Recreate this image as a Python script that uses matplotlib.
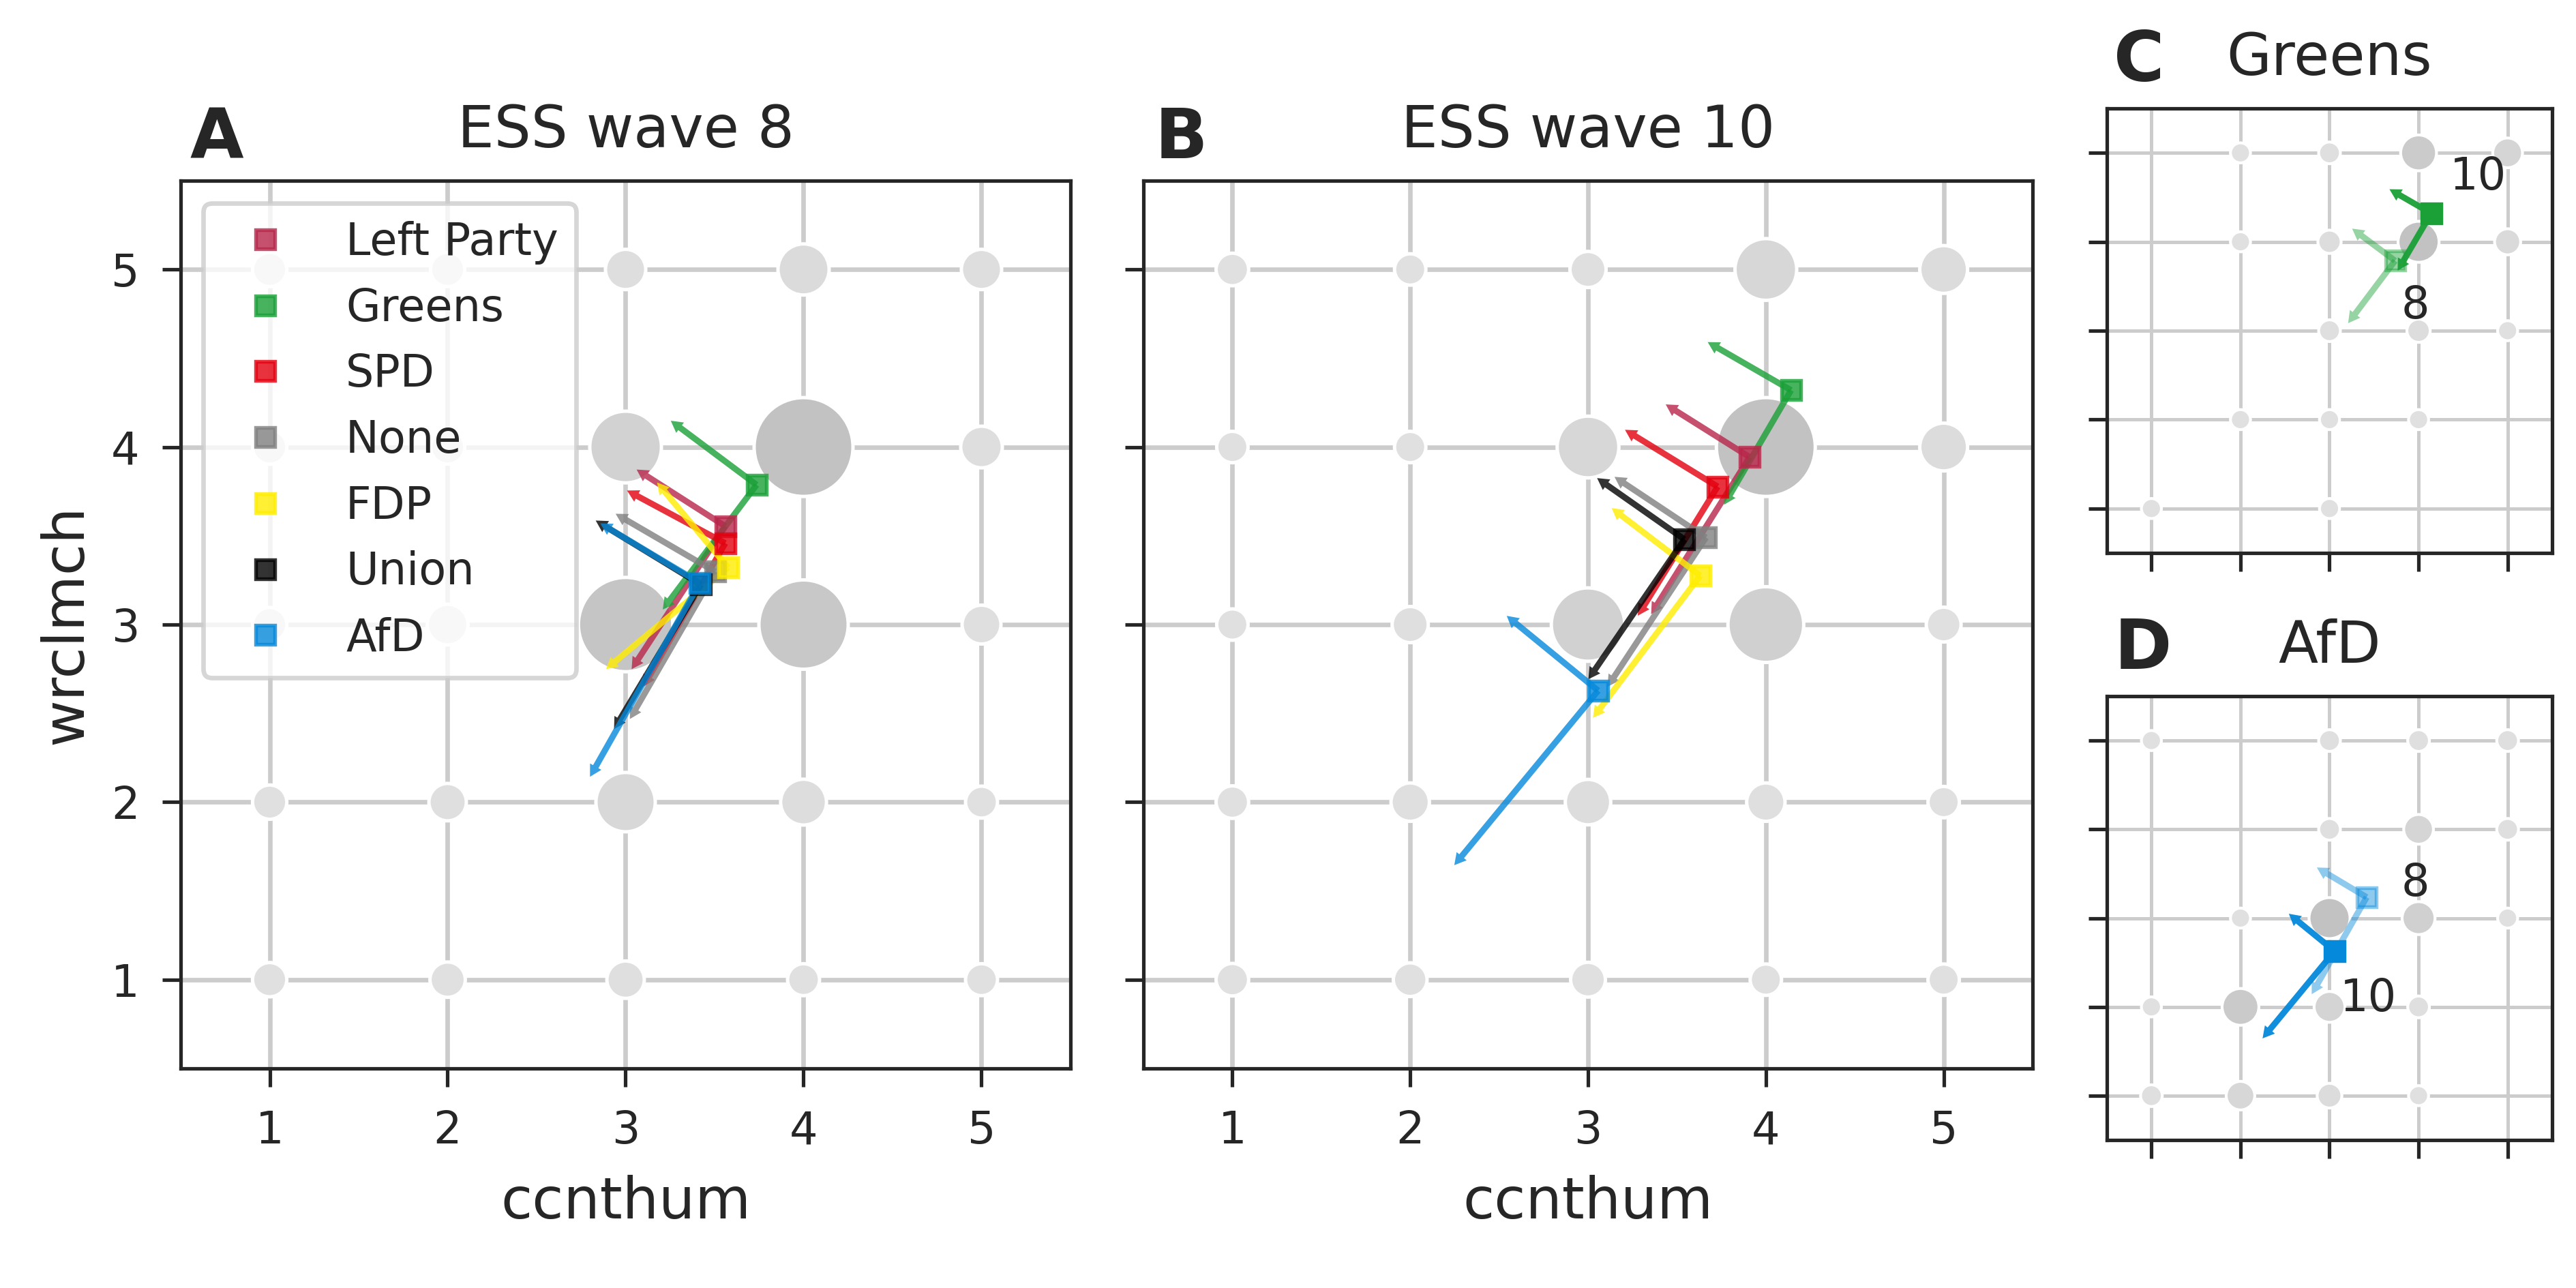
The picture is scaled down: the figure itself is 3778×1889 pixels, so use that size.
import numpy as np
import matplotlib
matplotlib.use("Agg")
import matplotlib.pyplot as plt
from matplotlib.lines import Line2D

# ---------------- data ----------------
parties = ["Left Party", "Greens", "SPD", "None", "FDP", "Union", "AfD"]
levels = [1, 2, 3, 4, 5]

# ESS wave 8: party means and the two arrow tips
w8_mean_x = [3.560, 3.736, 3.560, 3.503, 3.576, 3.423, 3.417]
w8_mean_y = [3.554, 3.787, 3.458, 3.298, 3.321, 3.225, 3.235]
w8_up_x = [3.062, 3.254, 3.008, 2.944, 3.177, 2.832, 2.858]
w8_up_y = [3.873, 4.148, 3.755, 3.624, 3.800, 3.586, 3.570]
w8_down_x = [3.034, 3.209, 3.100, 3.024, 2.890, 2.935, 2.800]
w8_down_y = [2.749, 3.085, 2.650, 2.468, 2.749, 2.411, 2.143]

# ESS wave 10
w10_mean_x = [3.909, 4.142, 3.729, 3.663, 3.631, 3.542, 3.057]
w10_mean_y = [3.943, 4.320, 3.777, 3.490, 3.276, 3.480, 2.628]
w10_up_x = [3.437, 3.673, 3.208, 3.149, 3.133, 3.051, 2.543]
w10_up_y = [4.240, 4.591, 4.097, 3.832, 3.656, 3.825, 3.049]
w10_down_x = [3.355, 3.765, 3.280, 3.110, 3.028, 3.002, 2.248]
w10_down_y = [3.059, 3.675, 3.050, 2.650, 2.475, 2.692, 1.645]

# joint distribution shares (rows: wrclmch 1..5, columns: ccnthum 1..5)
share_w8 = [
    [1.0, 1.2, 1.6, 0.6, 0.6],
    [1.0, 1.6, 7.4, 3.5, 0.6],
    [1.0, 2.3, 22.5, 19.9, 1.9],
    [1.0, 1.0, 11.9, 25.0, 2.5],
    [1.0, 1.0, 2.2, 4.9, 2.2],
]
share_w10 = [
    [0.7, 0.9, 1.1, 0.5, 0.5],
    [0.7, 1.8, 3.4, 1.8, 0.5],
    [0.5, 1.35, 12.6, 13.6, 1.1],
    [0.5, 0.5, 8.2, 25.0, 4.0],
    [0.7, 0.5, 1.35, 8.2, 4.0],
]
# respondent counts for single parties
greens_counts = [
    [1, 0, 1, 0, 0],
    [0, 1, 1, 1, 0],
    [0, 0, 2, 3, 1],
    [0, 1, 3, 20, 5],
    [0, 1, 2, 14, 8],
]
afd_counts = [
    [2, 7, 4, 1, 0],
    [1, 15, 9, 2, 0],
    [0, 1, 20, 11, 1],
    [0, 0, 2, 8, 2],
    [1, 0, 2, 2, 2],
]
wave_labels = ["8", "10"]
greens_label_pos = [(3.966, 3.278), (4.668, 4.722)]
afd_label_pos = [(3.966, 3.391), (3.439, 2.089)]

# ---------------- style ----------------
party_colors = {
    "Left Party": "#B8264A",
    "Greens": "#1AA037",
    "SPD": "#E3000F",
    "None": "#808080",
    "FDP": "#FFED00",
    "Union": "#000000",
    "AfD": "#0489DB",
}
TXT = "#262626"
DPI = 300
W, H = 3779, 1889
FS_TICK = 15.7
FS_LEGEND = 15.7
FS_LABEL = 20.2
FS_TITLE = 20.4
FS_LETTER = 24.4

plt.rcParams.update({
    "font.family": ["DejaVu Sans"],
    "text.color": TXT,
    "axes.labelcolor": TXT,
    "axes.edgecolor": TXT,
    "xtick.color": TXT,
    "ytick.color": TXT,
    "axes.linewidth": 1.25,
    "xtick.major.width": 1.25,
    "ytick.major.width": 1.25,
    "xtick.major.size": 6.5,
    "ytick.major.size": 6.5,
    "xtick.major.pad": 8,
    "ytick.major.pad": 8,
    "xtick.labelsize": FS_TICK,
    "ytick.labelsize": FS_TICK,
})

fig = plt.figure(figsize=(W / DPI, H / DPI), dpi=DPI)
axA = fig.add_axes([265 / W, 1 - 1567 / H, 1305 / W, 1302 / H])
axB = fig.add_axes([1677 / W, 1 - 1567 / H, 1304 / W, 1302 / H])
axC = fig.add_axes([3090 / W, 1 - 811 / H, 653 / W, 652 / H])
axD = fig.add_axes([3090 / W, 1 - 1672 / H, 653 / W, 651 / H])

PPU_BIG = 261.0   # pixels per data unit in A/B
PPU_SMALL = 130.6  # in C/D


def setup(ax, grid_lw):
    ax.set_xlim(0.5, 5.5)
    ax.set_ylim(0.5, 5.5)
    ax.set_xticks(levels)
    ax.set_yticks(levels)
    ax.set_axisbelow(True)
    ax.grid(True, color="#cccccc", lw=grid_lw, zorder=0)
    for sp in ax.spines.values():
        sp.set_color(TXT)
        sp.set_linewidth(1.25)


def draw_cells(ax, table, v0, v1, rmin_px, rmax_px, lw):
    X, Y = np.meshgrid(levels, levels)
    V = np.asarray(table, dtype=float)
    m = V > 0
    t = np.clip((V[m] - v0) / (v1 - v0), 0, 1)
    rmin = rmin_px * 72 / DPI
    rmax = rmax_px * 72 / DPI
    r = np.sqrt(rmin ** 2 + t * (rmax ** 2 - rmin ** 2))
    s = (2 * r + lw) ** 2
    g = 0.88 - 0.12 * t
    cols = [(gi, gi, gi) for gi in g]
    ax.scatter(X[m], Y[m], s=s, c=cols, edgecolors="white", linewidths=lw, zorder=2)


def draw_party(ax, mx, my, ux, uy, dx, dy, color, alpha, ppu, sq_alpha=None):
    for tx, ty in ((ux, uy), (dx, dy)):
        ax.arrow(mx, my, tx - mx, ty - my, width=9 / ppu, head_width=19 / ppu,
                 head_length=17 / ppu, length_includes_head=True, fc=color,
                 ec="none", lw=0, alpha=alpha, zorder=3)
    ax.plot([mx], [my], marker="s", ms=6.5, mfc=color, mec=color, mew=1.3,
            alpha=alpha if sq_alpha is None else sq_alpha, ls="none", zorder=4)


# ---- panel A ----
setup(axA, 1.6)
draw_cells(axA, share_w8, 0.5, 25.0, 20.5, 70, 1.2)
for i, p in enumerate(parties):
    draw_party(axA, w8_mean_x[i], w8_mean_y[i], w8_up_x[i], w8_up_y[i],
               w8_down_x[i], w8_down_y[i], party_colors[p], 0.8, PPU_BIG)
handles = [Line2D([], [], marker="s", ls="none", ms=6.8, mfc=party_colors[p],
                  mec=party_colors[p], mew=1.3, alpha=0.8) for p in parties]
leg = axA.legend(handles, parties, loc="upper left", fontsize=FS_LEGEND,
                 framealpha=0.8, edgecolor="0.8", fancybox=True)
leg.get_frame().set_linewidth(1.6)
leg.set_zorder(10)
axA.set_xlabel("ccnthum", fontsize=FS_LABEL, labelpad=7.5)
axA.set_ylabel("wrclmch", fontsize=FS_LABEL, labelpad=6)
axA.set_title("ESS wave 8", fontsize=FS_TITLE, pad=11.8)
axA.text(0.01, 1.025, "A", transform=axA.transAxes, fontsize=FS_LETTER,
         fontweight="bold", va="baseline", ha="left")

# ---- panel B ----
setup(axB, 1.6)
draw_cells(axB, share_w10, 0.5, 25.0, 20.5, 70, 1.2)
for i, p in enumerate(parties):
    draw_party(axB, w10_mean_x[i], w10_mean_y[i], w10_up_x[i], w10_up_y[i],
               w10_down_x[i], w10_down_y[i], party_colors[p], 0.8, PPU_BIG)
axB.set_yticklabels([])
axB.set_xlabel("ccnthum", fontsize=FS_LABEL, labelpad=7.5)
axB.set_title("ESS wave 10", fontsize=FS_TITLE, pad=11.8)
axB.text(0.013, 1.025, "B", transform=axB.transAxes, fontsize=FS_LETTER,
         fontweight="bold", va="baseline", ha="left")

# ---- panels C / D ----
for ax, party, counts, lab_pos, letter in (
        (axC, "Greens", greens_counts, greens_label_pos, "C"),
        (axD, "AfD", afd_counts, afd_label_pos, "D")):
    setup(ax, 1.2)
    draw_cells(ax, counts, 1, 20, 12.6, 28, 1.0)
    i = parties.index(party)
    c = party_colors[party]
    draw_party(ax, w8_mean_x[i], w8_mean_y[i], w8_up_x[i], w8_up_y[i],
               w8_down_x[i], w8_down_y[i], c, 0.45, PPU_SMALL)
    draw_party(ax, w10_mean_x[i], w10_mean_y[i], w10_up_x[i], w10_up_y[i],
               w10_down_x[i], w10_down_y[i], c, 0.95, PPU_SMALL, sq_alpha=1.0)
    for lab, (lx, ly) in zip(wave_labels, lab_pos):
        ax.text(lx, ly, lab, fontsize=FS_TICK, ha="center", va="center", zorder=5)
    ax.set_xticklabels([])
    ax.set_yticklabels([])
    ax.set_title(party, fontsize=FS_TITLE, pad=11.8)
    ax.text(0.016, 1.062, letter, transform=ax.transAxes, fontsize=FS_LETTER,
            fontweight="bold", va="baseline", ha="left")

fig.savefig("out.png", dpi=DPI)
